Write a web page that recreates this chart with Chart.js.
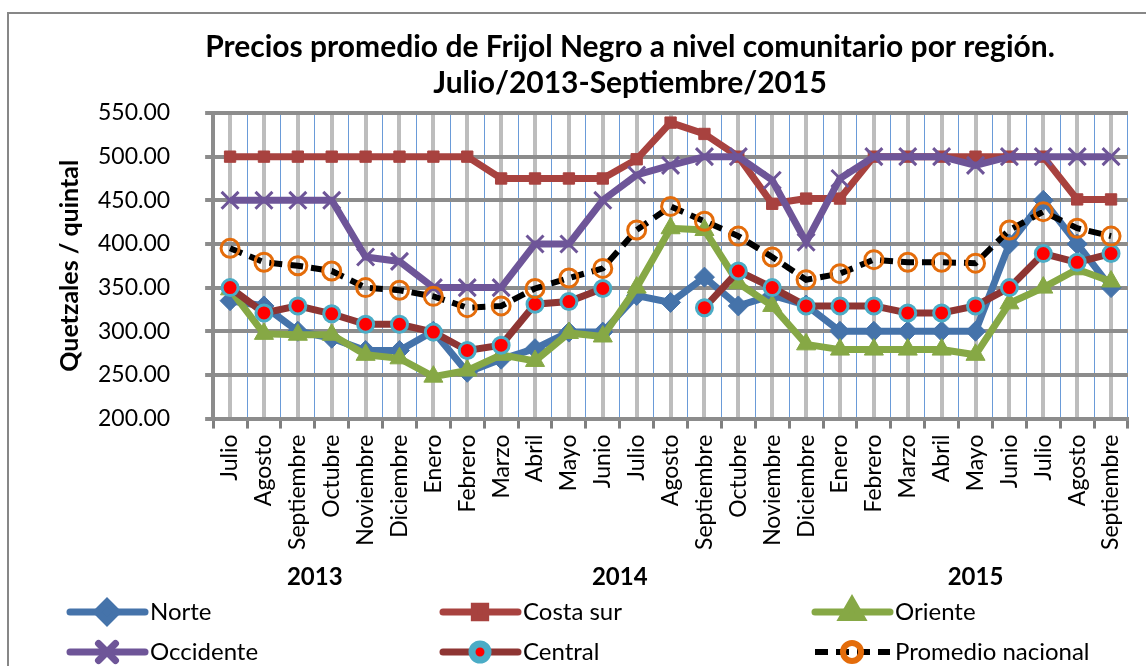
<!DOCTYPE html>
<html>
<head>
<meta charset="utf-8">
<script src="https://cdn.jsdelivr.net/npm/chart.js"></script>
<style>
  html, body { margin: 0; padding: 0; background: #fff; }
  #wrap { width: 1146px; height: 666px; position: relative; }
</style>
</head>
<body>
<div id="wrap"><canvas id="precios"></canvas></div>
<script>
const months = ["Julio", "Agosto", "Septiembre", "Octubre", "Noviembre", "Diciembre",
  "Enero", "Febrero", "Marzo", "Abril", "Mayo", "Junio", "Julio", "Agosto", "Septiembre",
  "Octubre", "Noviembre", "Diciembre", "Enero", "Febrero", "Marzo", "Abril", "Mayo",
  "Junio", "Julio", "Agosto", "Septiembre"];
const years = ["2013", "2014", "2015"];
const yearMonths = [6, 12, 9];

const norte = [335, 329, 300, 292, 278, 278, 300, 253, 268, 280, 299, 299, 341, 333, 362,
  329, 341, 330, 300, 300, 300, 300, 300, 400, 450, 400, 350];
const costaSur = [500, 500, 500, 500, 500, 500, 500, 500, 475, 475, 475, 475, 497, 539, 526,
  500, 446, 452, 452, 500, 500, 500, 500, 500, 500, 451, 451];
const oriente = [348, 297, 296, 296, 273, 269, 248, 255, 273, 266, 298, 294, 350, 418, 416,
  355, 329, 285, 279, 279, 279, 279, 273, 332, 350, 371, 357];
const occidente = [450, 450, 450, 450, 385, 380, 350, 350, 350, 400, 400, 450, 479, 490, 500,
  500, 473, 402, 475, 500, 500, 500, 490, 500, 500, 500, 500];
const central = [350, 321, 329, 320, 308, 308, 299, 278, 284, 331, 334, 349, null, null, 327,
  369, 350, 329, 329, 329, 321, 321, 329, 350, 389, 379, 389];
const promedio = [395, 379, 375, 369, 350, 347, 340, 327, 329, 349, 361, 372, 416, 443, 426,
  409, 385, 359, 366, 382, 379, 379, 378, 416, 437, 418, 409];

const titleLines = ["Precios promedio de Frijol Negro a nivel comunitario por región.",
  "Julio/2013-Septiembre/2015"];
const FONT = "Lato, 'Open Sans', sans-serif";

// marco, titulo, años y leyenda dibujados a mano
const extras = {
  id: "extras",
  beforeDraw(chart) {
    const ctx = chart.ctx;
    ctx.save();
    ctx.fillStyle = "#fff";
    ctx.fillRect(0, 0, chart.width, chart.height);
    ctx.strokeStyle = "#878787";
    ctx.lineWidth = 2;
    ctx.beginPath();
    ctx.moveTo(8, chart.height);
    ctx.lineTo(8, 13);
    ctx.lineTo(chart.width, 13);
    ctx.stroke();
    ctx.restore();
  },
  afterDraw(chart) {
    const ctx = chart.ctx;
    ctx.save();
    ctx.fillStyle = "#000";
    ctx.textAlign = "center";
    ctx.textBaseline = "middle";
    ctx.font = "bold 30px " + FONT;
    ctx.fillText(titleLines[0], 630, 47);
    ctx.fillText(titleLines[1], 630, 83);

    // años bajo los meses
    const xs = chart.scales.x;
    const half = xs.width / months.length / 2;
    ctx.font = "bold 24px " + FONT;
    let start = 0;
    years.forEach((y, i) => {
      const a = xs.getPixelForValue(start) - half;
      const b = xs.getPixelForValue(start + yearMonths[i] - 1) + half;
      ctx.fillText(y, (a + b) / 2, 577);
      start += yearMonths[i];
    });

    // leyenda
    const colX = [70, 443, 815];
    const rowY = [612, 652];
    chart.data.datasets.forEach((ds, i) => {
      const x = colX[i % 3], y = rowY[Math.floor(i / 3)];
      ctx.save();
      ctx.strokeStyle = ds.borderColor;
      ctx.lineWidth = ds.borderWidth;
      ctx.lineCap = ds.borderDash ? "butt" : "round";
      ctx.setLineDash(ds.borderDash || []);
      ctx.beginPath();
      ctx.moveTo(x, y);
      ctx.lineTo(x + 75, y);
      ctx.stroke();
      ctx.setLineDash([]);
      ctx.fillStyle = ds.pointBackgroundColor;
      ctx.strokeStyle = ds.pointBorderColor;
      Chart.helpers.drawPoint(ctx, {
        pointStyle: ds.pointStyle,
        radius: ds.pointRadius,
        borderWidth: ds.pointBorderWidth,
        rotation: 0
      }, x + 37, y);
      ctx.restore();
      ctx.fillStyle = "#000";
      ctx.textAlign = "left";
      ctx.font = "24px " + FONT;
      ctx.fillText(ds.label, x + 80, y);
    });
    ctx.restore();
  }
};

function serie(label, data, color, opts) {
  return Object.assign({
    label: label,
    data: data,
    borderColor: color,
    borderWidth: 7,
    pointBackgroundColor: color,
    pointBorderColor: color,
    pointBorderWidth: 1,
    pointRadius: 9,
    pointHoverRadius: 9,
    tension: 0,
    spanGaps: false
  }, opts);
}

new Chart(document.getElementById("precios"), {
  type: "line",
  data: {
    labels: months,
    datasets: [
      serie("Norte", norte, "#4573AA", { pointStyle: "rectRot", pointRadius: 10, order: 5 }),
      serie("Costa sur", costaSur, "#A8423F", { pointStyle: "rect", pointRadius: 8, order: 4 }),
      serie("Oriente", oriente, "#86A845", { pointStyle: "triangle", pointRadius: 11, order: 3 }),
      serie("Occidente", occidente, "#6E5598", { pointStyle: "crossRot", pointRadius: 12, pointBorderWidth: 3, order: 2 }),
      serie("Central", central, "#8E3533", { pointStyle: "circle", pointRadius: 8,
        pointBackgroundColor: "#FF0000", pointBorderColor: "#4BACC6", pointBorderWidth: 3, order: 1 }),
      serie("Promedio nacional", promedio, "#000000", { borderWidth: 6, borderDash: [13, 8],
        pointStyle: "circle", pointRadius: 9, pointBackgroundColor: "rgba(0,0,0,0)",
        pointBorderColor: "#E46C0A", pointBorderWidth: 3, order: 0 })
    ]
  },
  options: {
    responsive: true,
    maintainAspectRatio: false,
    animation: false,
    layout: { padding: { left: 55, right: 18, top: 113, bottom: 110 } },
    plugins: {
      legend: { display: false },
      title: { display: false },
      tooltip: { enabled: false }
    },
    scales: {
      x: {
        type: "category",
        offset: true,
        grid: { offset: true, color: "#6A9BD8", lineWidth: 1, tickColor: "#7F7F7F", tickWidth: 3, tickLength: 10 },
        border: { color: "#8C8C8C", width: 4 },
        ticks: { minRotation: 90, maxRotation: 90, autoSkip: false, padding: 6, color: "#000",
          font: { family: FONT, size: 23 } }
      },
      x2: {
        type: "category",
        position: "top",
        offset: true,
        grid: { offset: false, color: "#BDBDBD", lineWidth: 4, drawTicks: false },
        border: { display: false },
        ticks: { display: false }
      },
      y: {
        min: 200,
        max: 550,
        ticks: { stepSize: 50, padding: 35, color: "#000", font: { family: FONT, size: 23 },
          callback: v => v.toFixed(2) },
        grid: { color: "#8C8C8C", lineWidth: 4, tickLength: 8 },
        border: { color: "#8C8C8C", width: 4 },
        title: { display: true, text: "Quetzales / quintal", color: "#000",
          font: { family: FONT, size: 25, weight: "bold" }, padding: { top: 0, bottom: 13 } },
        // Chart.js cuenta el padding dos veces; quitar el sobrante a la izquierda
        afterFit(scale) { scale.width -= scale.options.ticks.padding; }
      }
    }
  },
  plugins: [extras]
});
</script>
</body>
</html>
